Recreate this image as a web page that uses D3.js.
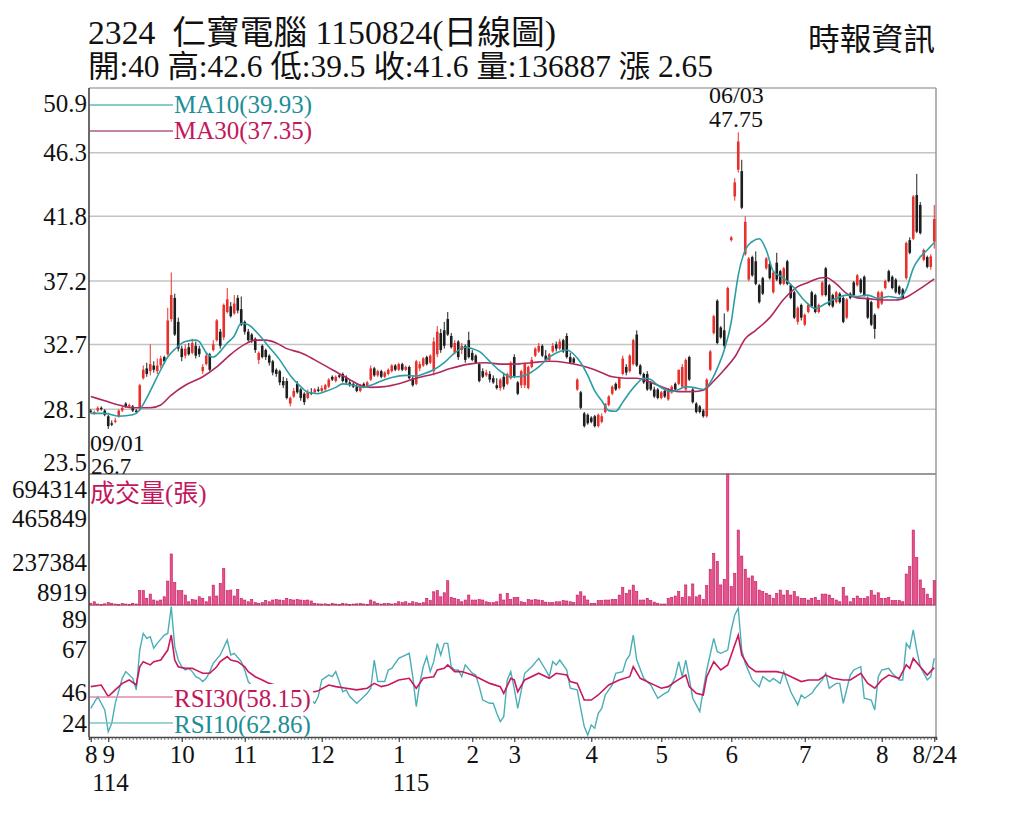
<!DOCTYPE html>
<html><head><meta charset="utf-8">
<script src="https://cdn.jsdelivr.net/npm/d3@7"></script>
<style>
html,body{margin:0;padding:0;background:#fff;}
svg{display:block;}
text{font-family:"Liberation Serif","Noto Sans CJK TC",serif;}
</style>
</head><body>
<svg id="c" width="1024" height="819"></svg>
<script>
// ---------------- data ----------------
const opens = [
28.0,27.8,28.0,28.2,28.0,27.6,27.1,27.2,27.6,28.0,
28.5,28.3,28.3,28.0,28.2,30.3,31.0,30.8,31.2,30.8,
31.2,31.8,32.0,34.5,36.0,34.3,32.4,31.9,32.5,32.1,
32.6,32.4,30.8,31.3,32.0,32.3,33.0,33.6,33.2,35.0,
35.4,34.9,36.0,35.2,34.3,33.6,33.4,33.1,31.6,32.6,
32.3,31.9,31.5,30.9,30.8,30.1,30.1,28.5,29.0,29.9,
29.5,29.2,28.9,29.3,29.3,29.5,29.4,29.5,29.7,30.4,
30.1,30.5,30.6,30.3,30.0,29.9,29.7,29.4,29.9,29.7,
30.2,31.0,30.5,30.8,30.4,30.6,30.8,31.2,30.9,31.3,
30.9,31.1,30.3,29.9,31.0,31.2,31.8,31.4,30.8,32.0,
33.5,33.7,34.5,33.3,32.1,32.9,32.3,32.6,33.0,32.1,
31.9,31.3,30.8,30.5,30.6,30.3,29.8,29.6,30.4,29.9,
30.3,31.8,30.0,29.8,29.8,29.6,31.1,31.9,32.2,32.6,
31.9,31.6,32.2,32.7,32.4,33.0,33.3,31.8,31.7,29.5,
29.3,27.8,27.7,27.5,27.6,26.9,27.2,27.9,28.4,29.2,
29.9,29.6,30.6,31.1,30.8,31.3,33.4,31.2,30.6,30.6,
30.0,29.5,29.5,28.9,29.4,28.8,29.3,29.9,29.9,29.7,
29.5,31.8,29.5,28.5,28.3,28.0,27.6,30.9,33.5,35.8,
33.9,33.7,35.1,40.1,43.2,45.1,45.0,39.1,37.3,38.9,
38.6,36.9,37.4,38.1,38.4,36.4,38.5,37.9,37.0,38.6,
36.9,36.4,34.3,35.5,34.1,35.0,36.4,36.2,35.0,36.2,
38.1,36.9,36.2,35.7,36.3,36.0,34.6,36.3,37.1,36.9,
37.3,37.5,36.0,35.7,34.8,35.3,35.6,36.7,37.9,37.5,
37.3,36.8,36.6,37.4,40.1,40.2,43.3,42.6,38.7,38.9,
38.2,40.0];
const highs = [
28.1,28.0,28.3,28.3,28.1,27.7,27.3,27.5,28.1,28.3,
28.6,28.5,28.4,28.1,29.9,31.2,31.4,32.7,31.5,31.7,
31.9,31.9,35.3,37.8,36.3,34.6,32.6,32.7,32.8,33.1,
32.9,32.6,31.3,32.1,32.1,33.0,34.5,33.8,35.6,36.7,
35.7,36.2,36.2,36.1,34.4,33.8,33.5,33.2,32.2,32.7,
32.4,32.0,31.6,31.0,30.9,30.4,30.3,29.0,29.6,30.1,
29.6,29.3,29.5,29.6,29.6,29.7,29.8,29.9,30.3,30.5,
30.5,30.6,30.7,30.5,30.2,30.0,29.9,29.9,30.0,30.1,
31.2,31.1,30.9,30.9,30.8,31.0,31.3,31.3,31.4,31.4,
31.2,31.2,30.5,31.6,31.5,31.8,31.9,32.0,33.2,34.0,
33.8,34.3,35.0,33.5,33.0,33.0,32.8,32.7,33.6,32.3,
32.0,31.4,31.0,30.9,30.8,30.5,30.3,30.3,30.7,30.7,
31.5,32.0,30.1,30.9,31.4,31.2,31.8,32.5,32.8,32.7,
32.3,32.1,32.8,32.9,33.1,33.1,33.5,32.1,31.8,30.3,
29.4,27.9,27.8,27.6,27.7,27.8,27.8,28.5,29.1,29.8,
30.0,30.4,31.9,31.3,32.0,33.1,33.7,31.3,30.7,30.8,
30.1,29.7,29.6,29.4,29.5,29.6,29.8,30.0,30.9,31.3,
31.7,31.9,29.6,28.6,28.4,28.1,30.3,32.3,34.8,35.9,
34.0,34.9,36.8,40.4,44.5,47.75,45.8,41.8,38.9,39.0,
39.3,37.0,37.5,38.9,38.6,37.9,39.2,38.0,38.2,38.7,
37.0,36.5,35.4,35.6,34.9,35.6,36.5,36.3,35.6,37.2,
38.2,37.0,36.3,36.5,36.4,36.1,36.0,36.4,37.2,37.7,
37.4,37.6,36.1,35.8,34.9,36.5,36.5,37.3,38.0,37.6,
37.4,36.9,36.7,40.0,40.3,43.3,44.8,42.8,39.5,39.0,
39.1,42.6];
const lows = [
27.8,27.7,27.9,28.0,27.6,26.7,26.9,27.1,27.5,27.9,
28.2,28.2,27.9,27.8,28.1,30.2,30.4,30.5,30.7,30.6,
31.0,31.3,31.9,34.3,33.3,32.2,31.5,31.7,31.9,32.0,
31.7,31.8,30.6,31.2,30.8,32.2,32.9,32.4,33.0,34.9,
34.6,34.8,34.9,34.0,33.4,32.9,32.8,32.1,31.3,31.7,
31.6,31.2,30.5,30.4,29.8,29.6,28.8,28.3,28.9,29.2,
28.7,28.4,28.8,29.1,29.2,29.3,29.3,29.4,29.6,30.1,
30.0,30.3,30.0,29.9,29.7,29.6,29.3,29.3,29.6,29.6,
30.1,30.4,30.4,30.3,30.3,30.5,30.7,30.8,30.8,30.8,
30.8,30.2,29.7,29.8,30.8,31.1,31.2,31.3,30.5,31.8,
32.1,32.4,33.3,32.4,32.0,31.6,32.0,31.4,31.7,31.5,
31.3,30.0,30.3,30.4,30.0,29.9,29.5,29.4,29.5,29.8,
30.2,30.3,29.1,29.6,29.6,29.5,31.0,31.8,32.1,31.8,
31.5,31.5,32.1,32.2,32.3,32.1,31.7,31.3,31.3,29.4,
28.1,26.8,27.0,27.1,26.8,26.8,27.1,27.8,28.3,29.1,
29.4,29.5,30.5,30.5,30.7,31.2,31.1,30.5,29.9,29.4,
29.4,28.9,28.8,28.8,28.9,28.7,29.2,29.4,29.8,29.6,
29.4,30.1,28.5,27.8,27.8,27.5,27.5,30.8,33.4,32.7,
33.1,32.4,35.0,40.0,42.9,44.9,42.3,39.0,37.2,37.5,
36.9,35.6,36.2,38.0,37.3,36.3,37.2,36.9,36.9,36.9,
35.9,34.5,34.1,34.4,34.0,34.9,35.3,34.9,34.9,36.1,
36.1,35.4,35.3,35.6,35.6,34.2,34.5,35.9,36.1,36.8,
36.3,36.1,34.5,34.0,33.1,35.2,35.5,36.6,37.1,36.6,
36.3,36.2,35.9,37.3,39.1,40.1,40.6,40.5,38.6,38.1,
38.0,39.5];
const closes = [
27.9,27.9,28.2,28.1,27.7,26.9,27.0,27.3,28.0,28.2,
28.3,28.4,28.0,27.9,29.8,30.9,30.6,31.3,30.9,31.2,
31.7,31.5,34.4,36.2,33.4,32.4,31.8,32.4,32.0,32.8,
31.9,32.0,31.1,31.9,30.9,32.7,34.4,32.6,35.5,35.9,
34.7,35.6,35.1,34.1,33.6,33.0,33.0,32.3,32.1,31.8,
31.8,31.4,30.7,30.6,30.0,29.8,28.9,28.9,29.4,29.3,
28.9,28.6,29.3,29.2,29.5,29.4,29.6,29.8,30.2,30.2,
30.4,30.4,30.1,30.0,29.8,29.7,29.4,29.8,29.7,30.0,
31.0,30.5,30.8,30.4,30.7,30.9,31.2,30.9,31.3,30.9,
31.1,30.3,29.8,31.5,31.3,31.7,31.3,31.9,32.9,33.6,
32.3,32.6,33.4,32.5,32.8,31.8,32.6,31.6,31.8,31.6,
31.4,30.1,30.4,30.7,30.2,30.0,29.6,30.2,29.7,30.6,
31.4,30.4,29.2,30.8,31.3,31.1,31.6,32.4,32.6,31.9,
31.6,32.0,32.6,32.4,32.9,32.2,31.8,31.4,31.4,30.2,
28.2,26.9,27.1,27.2,26.9,27.7,27.6,28.5,29.0,29.7,
29.5,30.3,31.7,30.7,31.9,33.0,31.2,30.6,30.0,29.5,
29.5,29.0,28.9,29.3,29.0,29.5,29.7,29.5,30.9,31.1,
31.6,30.2,28.6,27.9,27.9,27.6,30.2,32.2,34.7,32.8,
33.2,32.6,36.7,40.3,44.2,47.1,42.4,41.4,38.8,37.6,
37.0,35.7,36.3,38.8,37.4,37.8,37.3,37.0,38.1,37.0,
36.0,34.6,35.3,34.6,34.8,35.5,35.4,35.0,35.5,37.1,
36.2,35.5,35.4,36.4,35.7,34.3,35.9,36.0,36.2,37.6,
36.4,36.2,34.6,34.1,33.8,36.4,36.4,37.2,37.2,36.7,
36.4,36.3,36.0,39.9,39.2,43.2,40.7,40.6,39.4,38.2,
38.95,41.6];
// volume in thousands of 張
const volumeK = [
18,26,14,12,15,21,18,14,12,16,
14,12,18,14,84,84,44,66,35,30,
35,52,134,276,126,84,84,61,26,38,
35,52,44,26,52,113,56,122,199,84,
87,56,91,44,35,26,38,21,18,21,
32,26,35,38,35,32,44,38,35,38,
35,32,35,30,18,15,14,15,12,18,
14,12,18,15,12,14,15,18,14,12,
35,26,18,14,16,18,14,16,26,21,
26,18,26,21,18,21,44,32,78,84,
52,73,136,49,44,38,26,35,61,35,
35,38,35,26,21,21,26,66,35,70,
38,49,49,26,21,38,35,38,35,32,
24,21,21,26,26,32,30,26,21,61,
78,56,35,18,18,32,32,35,35,38,
38,61,101,70,87,113,79,35,35,44,
32,24,18,14,14,44,49,56,79,49,
114,52,119,52,61,38,110,196,279,237,
114,143,694.314,105,175,401,265,196,150,161,
131,87,79,70,61,44,70,87,61,84,
61,79,52,44,44,35,44,49,32,66,
66,61,44,35,26,101,56,26,44,56,
44,44,52,84,61,73,44,44,49,32,
32,32,26,171,210,401,258,140,96,66,
44,136.887];

// moving averages: [day index, value]
const ma10Pts = [[0,27.8],[4,27.8],[8,27.6],[12,27.7],[14,28.05],[16,28.9],[18,29.9],[20,30.9],[22,31.8],[24,32.35],[27,32.9],[30,33.0],[31,32.9],[33,32.1],[35,31.8],[37,32.2],[39,32.8],[41,33.3],[43,34.2],[45,34.1],[48,33.4],[51,32.5],[54,31.6],[57,30.5],[60,29.7],[62,29.3],[65,29.2],[67,29.35],[70,29.65],[72,29.9],[75,29.8],[78,29.65],[80,29.8],[83,30.1],[86,30.35],[90,30.5],[93,30.45],[95,30.6],[98,30.9],[101,31.4],[104,32.1],[107,32.5],[109,32.4],[111,32.2],[114,31.5],[117,30.8],[120,30.4],[122,30.4],[125,30.6],[128,31.1],[131,31.8],[134,32.2],[136,32.3],[138,32.0],[140,31.4],[142,30.5],[144,29.4],[146,28.7],[148,28.0],[150,27.95],[152,28.6],[154,29.3],[156,29.9],[158,30.3],[160,30.2],[162,29.8],[164,29.5],[166,29.35],[168,29.5],[170,29.7],[172,29.65],[175,29.5],[177,30.0],[179,31.0],[181,32.3],[183,34.3],[184,36.0],[185,37.6],[187,39.4],[189,40.0],[191,40.2],[193,39.4],[195,37.9],[198,37.4],[201,36.7],[204,35.8],[207,35.25],[210,35.6],[213,35.97],[216,36.2],[219,36.1],[222,36.2],[225,35.97],[228,36.1],[231,36.0],[233,36.6],[235,38.1],[237,38.9],[239,39.4],[241,39.93]];
const ma30Pts = [[0,29.0],[4,28.7],[8,28.4],[12,28.2],[17,28.2],[20,28.4],[23,29.1],[27,29.8],[32,30.4],[36,31.1],[40,32.0],[44,32.7],[47,33.0],[50,33.0],[53,32.8],[56,32.4],[60,32.1],[64,31.6],[69,30.9],[74,30.2],[77,29.8],[80,29.65],[84,29.7],[88,29.9],[93,30.3],[98,30.6],[103,31.0],[108,31.3],[113,31.4],[117,31.3],[121,31.3],[126,31.4],[131,31.5],[136,31.4],[140,31.2],[145,30.8],[149,30.4],[153,30.3],[156,30.3],[160,30.0],[164,29.6],[168,29.35],[172,29.35],[175,29.45],[178,30.1],[181,30.9],[184,31.8],[187,33.1],[190,33.7],[194,34.6],[198,35.9],[202,36.8],[205,37.1],[208,37.4],[210,37.45],[213,37.0],[216,36.3],[219,36.0],[222,35.95],[226,35.85],[230,35.85],[233,36.05],[236,36.5],[239,37.0],[241,37.35]];

// RSI: [day index, value]
const rsi10Pts = [[0,38.1],[2,43.9],[4,37.3],[5,26.6],[6,30.8],[7,40.6],[9,52.9],[10,56.2],[12,52.9],[13,47.2],[14,66.8],[15,75.0],[16,72.6],[17,73.4],[18,67.7],[19,70.1],[21,74.2],[22,75.0],[23,88.2],[24,68.5],[25,61.9],[26,58.6],[27,57.0],[28,57.8],[29,56.2],[30,53.7],[31,52.9],[32,51.3],[33,52.9],[34,56.2],[35,60.3],[37,64.4],[39,71.8],[40,64.4],[41,65.2],[43,61.1],[44,57.0],[45,51.3],[47,47.0],[55,42.0],[62,43.0],[63,42.2],[64,40.6],[65,43.9],[66,52.1],[68,54.5],[69,53.7],[70,56.2],[72,46.3],[73,47.2],[74,43.9],[76,40.6],[77,42.2],[79,45.5],[80,48],[81,61.9],[82,51.3],[84,51.3],[85,57.0],[86,57.8],[88,62.7],[89,63.6],[91,65.2],[92,53.7],[93,39],[94,50.4],[95,58.6],[96,63.6],[97,56.2],[98,61.1],[99,70.1],[100,64.4],[101,70.1],[102,70.1],[103,58.6],[104,57],[105,57],[106,53.7],[107,59.5],[109,55.4],[110,54.5],[111,48.8],[112,42.2],[114,40.6],[115,40.6],[116,35.7],[117,31.6],[118,34.0],[119,52.1],[120,56.2],[121,48],[122,38.1],[124,55.4],[126,58.6],[128,62.7],[130,57.0],[131,53.7],[132,61.1],[133,59.5],[134,61.9],[136,57.0],[137,48],[139,47.2],[140,38],[141,29.1],[142,25],[143,29.9],[144,28.3],[145,35.7],[146,38.1],[147,44.7],[149,49.6],[150,55.4],[152,56.2],[153,61.9],[154,64.4],[155,74.2],[156,61.9],[158,52.9],[160,49.6],[162,43.1],[164,45.5],[165,46.3],[167,53.7],[168,61.1],[169,53.7],[170,61.9],[171,52.9],[172,43.1],[173,39.8],[174,36.5],[175,47.2],[176,57.0],[178,72.6],[179,66.0],[180,65.2],[182,66.8],[183,76.7],[184,84.1],[185,87.4],[186,66.8],[187,60.3],[189,52.1],[191,48.8],[192,53.7],[194,51.3],[195,52.9],[197,50.4],[198,56.2],[200,46.3],[202,39.8],[203,44.7],[204,43.1],[206,45.5],[207,48],[209,52.1],[210,55.4],[211,48],[213,50.4],[214,50.4],[215,40.6],[217,54.5],[218,57.0],[220,58.6],[221,43.1],[223,42.2],[224,37.3],[225,53.7],[226,57],[228,57.8],[229,55.4],[231,52.1],[232,52.1],[233,70.1],[234,67.7],[235,76.7],[236,66.8],[237,58.6],[239,52.1],[240,53.7],[241,62.86]];
const rsi30Pts = [[0,48.8],[3,49.6],[5,43.9],[7,47.2],[9,50.4],[11,52.1],[13,49.6],[14,58.6],[15,61.1],[17,59.5],[18,61.1],[20,61.9],[22,66.8],[23,74.2],[24,61.9],[25,58.6],[27,57.8],[29,57.8],[31,56.2],[32,55.4],[34,55.4],[36,58.6],[37,61.1],[39,63.6],[40,61.9],[42,61.1],[44,58.6],[45,56.2],[47,53.7],[49,52.1],[51,50.4],[57,47.5],[64,46.3],[65,46.8],[68,49.6],[70,48.8],[73,48],[76,47.2],[79,48],[81,50.4],[83,48.8],[85,49.6],[88,52.1],[91,52.9],[93,48],[95,52.9],[98,53.7],[99,57.0],[101,57.8],[102,59.5],[104,56.2],[106,56.2],[109,54.5],[111,52.9],[114,50.4],[117,48.8],[118,45.5],[120,52.9],[121,52.1],[122,46.3],[124,52.1],[128,55.4],[131,52.9],[133,55.4],[136,54.5],[137,51.3],[139,50.4],[141,42.2],[143,42.2],[145,44.7],[148,49.6],[151,52.1],[154,53.7],[155,58.6],[157,52.9],[160,50.4],[163,48],[165,48.8],[167,51.3],[170,54.5],[171,48.8],[173,45.5],[175,44.7],[176,53.7],[178,61.1],[180,57.0],[182,59.5],[184,69.3],[185,74.2],[186,64.4],[188,58.6],[190,56.2],[193,56.2],[196,56.2],[198,55.4],[201,52.9],[203,51.3],[205,52.1],[208,52.1],[210,54.5],[212,52.9],[215,52.1],[217,52.1],[220,55.4],[222,50.4],[224,48],[226,52.1],[228,54.5],[231,52.9],[233,59.5],[234,57.8],[235,62.7],[237,58.6],[239,54.5],[241,58.15]];

// axis ticks & labels
const priceTicks = [23.5,28.1,32.7,37.2,41.8,46.3,50.9];
const volTicksK = [8.919,237.384,465.849,694.314];
const volTickLabels = ["8919","237384","465849","694314"];
const rsiTicks = [24,46,67,89];
const monthIdx = [0,5,26,44,66,88,109,121,143,163,183,204,226,241];
const monthLabels = ["8","9","10","11","12","1","2","3","4","5","6","7","8","8/24"];

// ---------------- layout ----------------
const n = closes.length;
const L = 89, R = 936, T = 88, PB = 474, VB = 605, RB = 737;
const svg = d3.select('#c');
svg.append('rect').attr('width',1024).attr('height',819).attr('fill','#fff');

const x = d3.scaleLinear().domain([-0.5, n - 0.5]).range([L, R]);
const yP = d3.scaleLinear().domain([23.5, 50.9]).range([PB, T]);
const yV = d3.scaleLinear().domain([8.919, 694.314]).range([VB, PB]);
const yR = d3.scaleLinear().domain([24, 89]).range([RB, VB]);

const UP = '#e8302c', DOWN = '#1e1e1e';
const TEAL = '#2a9ea4', PLUM = '#b0285f';

const defs = svg.append('defs');
defs.append('clipPath').attr('id','cp').append('rect').attr('x',L).attr('y',T).attr('width',R-L).attr('height',PB-T);
defs.append('clipPath').attr('id','cr').append('rect').attr('x',L).attr('y',VB).attr('width',R-L).attr('height',RB-VB);

// gridlines
svg.append('g').selectAll('line').data(priceTicks.slice(1, -1)).join('line')
  .attr('x1', L).attr('x2', R).attr('y1', d => yP(d)).attr('y2', d => yP(d))
  .attr('stroke', '#c4c4c4').attr('stroke-width', 1.5);

// frame
const frame = svg.append('g');
frame.append('line').attr('x1',L).attr('x2',R).attr('y1',T).attr('y2',T).attr('stroke','#aaa').attr('stroke-width',1.5);
frame.append('line').attr('x1',L).attr('x2',R).attr('y1',PB).attr('y2',PB).attr('stroke','#999').attr('stroke-width',2);
frame.append('line').attr('x1',L).attr('x2',R).attr('y1',VB).attr('y2',VB).attr('stroke','#999').attr('stroke-width',1.5);
frame.append('line').attr('x1',R).attr('x2',R).attr('y1',T).attr('y2',RB).attr('stroke','#999').attr('stroke-width',1.5);

// ---------------- candles ----------------
const days = d3.range(n);
const bw = 2.6;
const cg = svg.append('g').attr('clip-path','url(#cp)');
cg.selectAll('line.w').data(days).join('line').attr('class','w')
  .attr('x1', i => x(i)).attr('x2', i => x(i))
  .attr('y1', i => yP(highs[i])).attr('y2', i => yP(lows[i]))
  .attr('stroke', i => closes[i] >= opens[i] ? UP : DOWN).attr('stroke-width', 1);
cg.selectAll('rect.b').data(days).join('rect').attr('class','b')
  .attr('x', i => x(i) - bw/2).attr('width', bw)
  .attr('y', i => yP(Math.max(opens[i], closes[i])))
  .attr('height', i => Math.max(1, Math.abs(yP(opens[i]) - yP(closes[i]))))
  .attr('fill', i => closes[i] >= opens[i] ? UP : DOWN);

// MA lines
const lineP = d3.line().x(d => x(d[0])).y(d => yP(d[1])).curve(d3.curveMonotoneX);
cg.append('path').attr('d', lineP(ma30Pts)).attr('fill','none').attr('stroke',PLUM).attr('stroke-width',1.6);
cg.append('path').attr('d', lineP(ma10Pts)).attr('fill','none').attr('stroke',TEAL).attr('stroke-width',1.6);

// ---------------- volume ----------------
svg.append('g').selectAll('rect').data(days).join('rect')
  .attr('x', i => x(i) - 1.1).attr('width', 2.2)
  .attr('y', i => yV(volumeK[i])).attr('height', i => Math.max(0.8, VB - yV(volumeK[i])))
  .attr('fill', '#e4508a').attr('stroke', '#c8175d').attr('stroke-width', 0.6);

// ---------------- RSI ----------------
const rg = svg.append('g').attr('clip-path','url(#cr)');
const lineR = d3.line().x(d => x(d[0])).y(d => yR(d[1]));
rg.append('path').attr('d', lineR(rsi10Pts)).attr('fill','none').attr('stroke','#4aaeb6').attr('stroke-width',1.4);
rg.append('path').attr('d', lineR(rsi30Pts)).attr('fill','none').attr('stroke','#c8185f').attr('stroke-width',1.6);

// ---------------- axes ----------------
const fontF = '"Liberation Serif","Noto Sans CJK TC",serif';
function styleAxis(g){
  g.select('.domain').remove();
  g.selectAll('text').attr('font-size', 25).attr('font-family', fontF).attr('fill', '#111');
}
const ap = svg.append('g').attr('transform', `translate(${L},0)`)
  .call(d3.axisLeft(yP).tickValues(priceTicks).tickSize(0).tickPadding(2).tickFormat(d3.format('.1f')));
styleAxis(ap);
ap.selectAll('text').attr('y', d => d === 50.9 ? 15 : d === 23.5 ? -12 : 0);

const av = svg.append('g').attr('transform', `translate(${L},0)`)
  .call(d3.axisLeft(yV).tickValues(volTicksK).tickSize(0).tickPadding(2).tickFormat((d, i) => volTickLabels[i]));
styleAxis(av);
av.selectAll('text').attr('y', d => d === 694.314 ? 15 : d === 8.919 ? -13 : 1);

const ar = svg.append('g').attr('transform', `translate(${L},0)`)
  .call(d3.axisLeft(yR).tickValues(rsiTicks).tickSize(0).tickPadding(2));
styleAxis(ar);
ar.selectAll('text').attr('y', d => d === 89 ? 14 : d === 24 ? -14 : 0);

// left axis line
svg.append('line').attr('x1',L).attr('x2',L).attr('y1',T).attr('y2',RB).attr('stroke','#444').attr('stroke-width',1.6);

// bottom axis: daily minor ticks + month ticks
const minor = svg.append('g').attr('transform', `translate(0,${RB})`)
  .call(d3.axisBottom(x).tickValues(days).tickSize(3).tickFormat(''));
minor.select('.domain').attr('stroke','#444').attr('stroke-width',1.6);
minor.selectAll('.tick line').attr('stroke','#555').attr('stroke-width',0.8);
const major = svg.append('g').attr('transform', `translate(0,${RB})`)
  .call(d3.axisBottom(x).tickValues(monthIdx).tickSize(5).tickPadding(3).tickFormat((d, i) => monthLabels[i]));
major.select('.domain').remove();
major.selectAll('.tick line').attr('stroke','#444').attr('stroke-width',1.2);
major.selectAll('text').attr('font-size', 25).attr('font-family', fontF).attr('fill', '#111');

// year labels
svg.append('text').attr('x', x(5) - 16).attr('y', 791).attr('font-size', 25).attr('fill', '#111').text('114');
svg.append('text').attr('x', x(88) - 6).attr('y', 791).attr('font-size', 25).attr('fill', '#111').text('115');

// ---------------- legends ----------------
svg.append('line').attr('x1',90).attr('x2',173).attr('y1',105).attr('y2',105).attr('stroke','#5fb8bd').attr('stroke-width',1.4);
svg.append('line').attr('x1',90).attr('x2',173).attr('y1',131).attr('y2',131).attr('stroke','#b25a86').attr('stroke-width',1.4);
svg.append('text').attr('x',174).attr('y',113).attr('font-size',25).attr('fill','#1f8e97').text('MA10(39.93)');
svg.append('text').attr('x',174).attr('y',139).attr('font-size',25).attr('fill','#c2185b').text('MA30(37.35)');

// volume label
svg.append('text').attr('x',90).attr('y',502).attr('font-size',25).attr('fill','#c2185b').text('成交量(張)');

// RSI legend
svg.append('rect').attr('x',173).attr('y',684).attr('width',140).attr('height',52).attr('fill','#fff');
svg.append('line').attr('x1',90).attr('x2',173).attr('y1',697).attr('y2',697).attr('stroke','#e48aae').attr('stroke-width',1.4);
svg.append('line').attr('x1',90).attr('x2',173).attr('y1',723).attr('y2',723).attr('stroke','#7cc3c9').attr('stroke-width',1.4);
svg.append('text').attr('x',174).attr('y',707).attr('font-size',25).attr('fill','#c2185b').text('RSI30(58.15)');
svg.append('text').attr('x',174).attr('y',733).attr('font-size',25).attr('fill','#1f8e97').text('RSI10(62.86)');

// annotations
svg.append('text').attr('x',90).attr('y',451).attr('font-size',24).attr('fill','#111').text('09/01');
svg.append('text').attr('x',91).attr('y',474).attr('font-size',23).attr('fill','#111').text('26.7');
svg.append('text').attr('x',709).attr('y',103).attr('font-size',24).attr('fill','#111').text('06/03');
svg.append('text').attr('x',709).attr('y',127).attr('font-size',24).attr('fill','#111').text('47.75');

// ---------------- titles ----------------
svg.append('text').attr('x',88).attr('y',44).attr('font-size',33).attr('fill','#111')
  .style('white-space','pre').attr('textLength',468).attr('lengthAdjust','spacingAndGlyphs')
  .text('2324  仁寶電腦 1150824(日線圖)');
svg.append('text').attr('x',88).attr('y',77).attr('font-size',31).attr('fill','#111')
  .attr('textLength',625).attr('lengthAdjust','spacingAndGlyphs')
  .text('開:40 高:42.6 低:39.5 收:41.6 量:136887 漲 2.65');
svg.append('text').attr('x',808).attr('y',50).attr('font-size',31).attr('fill','#111')
  .attr('textLength',127).attr('lengthAdjust','spacingAndGlyphs')
  .text('時報資訊');
</script>
</body></html>
